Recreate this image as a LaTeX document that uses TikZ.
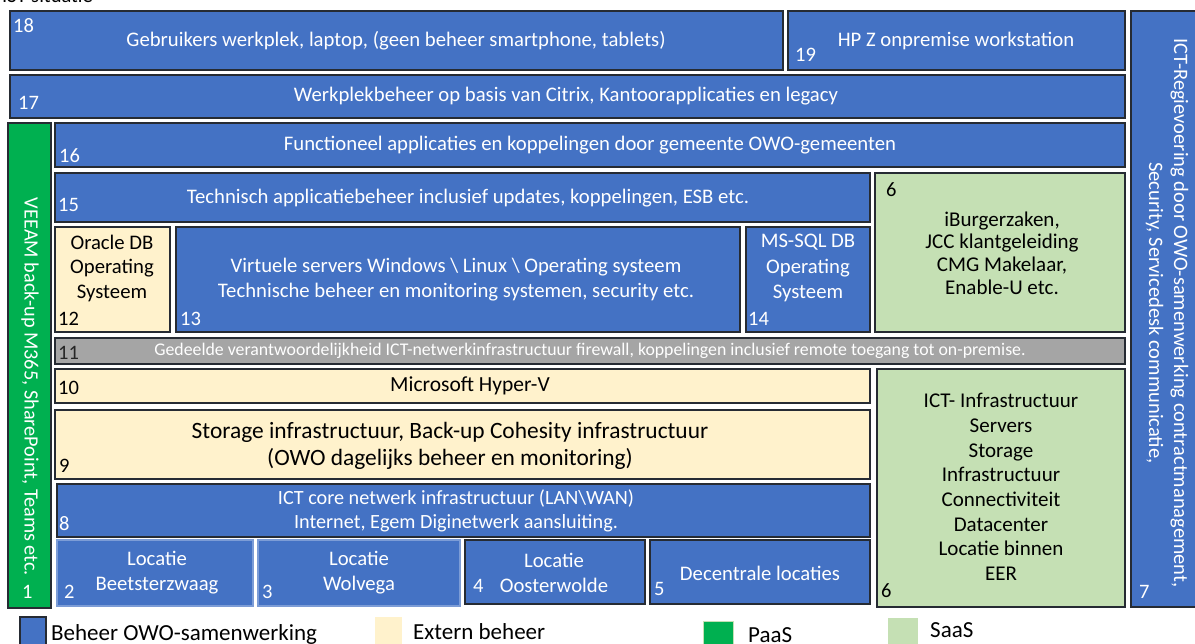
\documentclass[tikz,border=0pt]{standalone}
\usepackage{fontspec}
\setmainfont{Carlito}
\usepackage{tikz}
\usetikzlibrary{arrows}

\definecolor{owoblauw}{HTML}{4472C4}
\definecolor{externgeel}{HTML}{FFF2CC}
\definecolor{saasgroen}{HTML}{C5E0B4}
\definecolor{paasgroen}{HTML}{00B050}
\definecolor{gedeeldgrijs}{HTML}{A5A5A5}
\definecolor{randdonker}{HTML}{262B33}

\newcommand{\tekstfont}{\fontsize{20.7}{25}\selectfont}
\newcommand{\nummerfont}{\fontsize{20.5}{24}\selectfont}

\tikzset{
  beheer/.style={draw=randdonker, fill=owoblauw, line width=1.1pt},
  extern/.style={draw=randdonker, fill=externgeel, line width=1.1pt},
  saas/.style={draw=randdonker, fill=saasgroen, line width=1.1pt},
  paas/.style={draw=randdonker, fill=paasgroen, line width=1.1pt},
  gedeeld/.style={draw=randdonker, fill=gedeeldgrijs, line width=1.1pt},
  wit/.style={text=white, align=center, font=\tekstfont, inner sep=0pt},
  zwart/.style={text=black, align=center, font=\tekstfont, inner sep=0pt},
  nr/.style={anchor=base west, font=\nummerfont, text=white, inner sep=0pt},
  nrzwart/.style={nr, text=black},
  legenda/.style={anchor=base west, font=\fontsize{23}{26}\selectfont, inner sep=0pt}
}

\begin{document}
\begin{tikzpicture}[x=1pt,y=-1pt]
\useasboundingbox (0,0) rectangle (1195,644);

\node[anchor=base west, font=\nummerfont, inner sep=0pt] (titel) at (2,3) {IST situatie};

% bovenste lagen
\draw [beheer] (10,11) rectangle (783,70);
\node[wit] (t18) at (396,41) {Gebruikers werkplek, laptop, (geen beheer smartphone, tablets)};
\node[nr] (n18) at (13,33) {18};

\draw [beheer] (788,11) rectangle (1125,70);
\node[wit] (t19) at (956,41) {HP Z onpremise workstation};
\node[nr] (n19) at (795,62) {19};

\draw [beheer] (1131,11) rectangle (1200,607);
\node[wit, rotate=-90, font=\fontsize{20.5}{25}\selectfont] (t7) at (1167,313)
  {ICT-Regievoering door OWO-samenwerking contractmanagement,\\Security, Servicedesk communicatie,};
\node[nr] (n7) at (1139,598) {7};

\draw [beheer] (10,75) rectangle (1125,118);
\node[wit] (t17) at (566,96) {Werkplekbeheer op basis van Citrix, Kantoorapplicaties en legacy};
\node[nr] (n17) at (18,110) {17};

% PaaS
\draw [paas] (8,123) rectangle (51,608);
\node[wit, rotate=-90, font=\fontsize{20.3}{25}\selectfont] (t1) at (30,387) {VEEAM back-up M365, SharePoint, Teams etc.};
\node[nr] (n1) at (22,598) {1};

% applicaties
\draw [beheer] (55,123) rectangle (1125,167);
\node[wit] (t16) at (590,145) {Functioneel applicaties en koppelingen door gemeente OWO-gemeenten};
\node[nr] (n16) at (59,163) {16};

\draw [beheer] (55,173) rectangle (870,222);
\node[wit] (t15) at (468,198) {Technisch applicatiebeheer inclusief updates, koppelingen, ESB etc.};
\node[nr] (n15) at (58,212) {15};

\draw [saas] (875,173) rectangle (1125,332);
\node[zwart, font=\fontsize{21}{22.8}\selectfont] (t6a) at (1002,253) {iBurgerzaken,\\JCC klantgeleiding\\CMG Makelaar,\\Enable-U etc.};
\node[nrzwart] (n6a) at (886,197) {6};

\draw [extern] (55,227) rectangle (170,332);
\node[zwart, font=\fontsize{20.7}{24.5}\selectfont] (t12) at (112,268) {Oracle DB\\Operating\\Systeem};
\node[nrzwart] (n12) at (58,326) {12};

\draw [beheer] (176,227) rectangle (740,332);
\node[wit] (t13) at (456,280) {Virtuele servers Windows \textbackslash{} Linux \textbackslash{} Operating systeem\\Technische beheer en monitoring systemen, security etc.};
\node[nr] (n13) at (180,326) {13};

\draw [beheer] (746,227) rectangle (870,332);
\node[wit, font=\fontsize{20.7}{25.5}\selectfont] (t14) at (808,268) {MS-SQL DB\\Operating\\Systeem};
\node[nr] (n14) at (748,326) {14};

% gedeelde laag
\draw [gedeeld] (55,338) rectangle (1125,364);
\node[wit, font=\fontsize{17.8}{20}\selectfont] (t11) at (590,351) {Gedeelde verantwoordelijkheid ICT-netwerkinfrastructuur firewall, koppelingen inclusief remote toegang tot on-premise.};
\node[nrzwart, text=black!85] (n11) at (58,360) {11};

% infrastructuur
\draw [extern] (55,369) rectangle (870,403);
\node[zwart, font=\fontsize{21.5}{25}\selectfont] (t10) at (470,386) {Microsoft Hyper-V};
\node[nrzwart] (n10) at (58,395) {10};

\draw [saas] (877,369) rectangle (1125,607);
\node[zwart, font=\fontsize{21}{24.7}\selectfont] (t6b) at (1001,487) {ICT- Infrastructuur\\Servers\\Storage\\Infrastructuur\\Connectiviteit\\Datacenter\\Locatie binnen\\EER};
\node[nrzwart] (n6b) at (881,597) {6};

\draw [extern] (55,410) rectangle (870,479);
\node[zwart, font=\fontsize{23.4}{27}\selectfont] (t9) at (450,446) {Storage infrastructuur, Back-up Cohesity infrastructuur\\(OWO dagelijks beheer en monitoring)};
\node[nrzwart] (n9) at (59,472) {9};

\draw [beheer] (57,484) rectangle (870,537);
\node[wit, font=\fontsize{20.2}{24}\selectfont] (t8) at (456,511) {ICT core netwerk infrastructuur (LAN\textbackslash WAN)\\Internet, Egem Diginetwerk aansluiting.};
\node[nr] (n8) at (59,530) {8};

% locaties
\draw [beheer, draw=owoblauw!70!white] (57,540) rectangle (253,606);
\draw [beheer, draw=owoblauw!70!white] (258,540) rectangle (460,606);
\draw [beheer] (465,540) rectangle (645,604);
\draw [beheer] (650,540) rectangle (870,604);
\foreach \x/\plaats/\n/\nx/\ny in {157/Beetsterzwaag/2/64/598, 359/Wolvega/3/262/598, 554/Oosterwolde/4/473/592}
{
  \node[wit] (loc\n) at (\x,573) {Locatie\\\plaats};
  \node[nr] (n\n) at (\nx,\ny) {\n};
}
\node[wit] (t5) at (760,573) {Decentrale locaties};
\node[nr] (n5) at (654,595) {5};

% legenda
\fill[owoblauw, draw=randdonker, line width=1.1pt] (20,617) rectangle (46,650);
\node[legenda] (l1) at (51,640) {Beheer OWO-samenwerking};
\fill[externgeel] (375,617) rectangle (402,650);
\node[legenda] (l2) at (413,639) {Extern beheer};
\fill[paasgroen, draw=saasgroen] (703,621) rectangle (733,650);
\node[legenda] (l3) at (748,642) {PaaS};
\fill[saasgroen] (888,618) rectangle (918,650);
\node[legenda] (l4) at (930,637) {SaaS};
\end{tikzpicture}
\end{document}
